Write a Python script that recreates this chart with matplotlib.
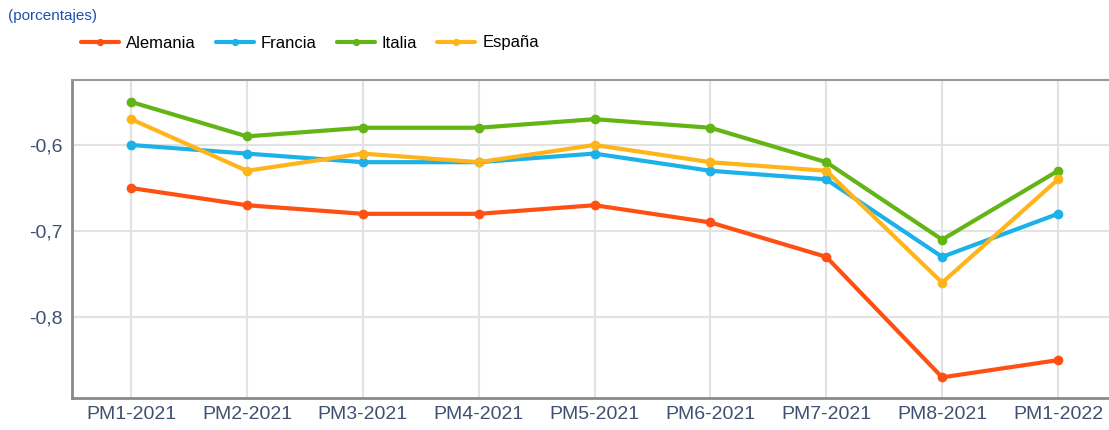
import numpy as np
import matplotlib.pyplot as plt
from matplotlib.ticker import FuncFormatter

# periods on the x axis
periodos = ["PM1-2021", "PM2-2021", "PM3-2021", "PM4-2021", "PM5-2021",
            "PM6-2021", "PM7-2021", "PM8-2021", "PM1-2022"]

alemania = [-0.65, -0.67, -0.68, -0.68, -0.67, -0.69, -0.73, -0.87, -0.85]
francia = [-0.60, -0.61, -0.62, -0.62, -0.61, -0.63, -0.64, -0.73, -0.68]
italia = [-0.55, -0.59, -0.58, -0.58, -0.57, -0.58, -0.62, -0.71, -0.63]
espana = [-0.57, -0.63, -0.61, -0.62, -0.60, -0.62, -0.63, -0.76, -0.64]

series = [("Alemania", alemania, "#ff5014"),
          ("Francia", francia, "#1cb1e8"),
          ("Italia", italia, "#63b516"),
          ("España", espana, "#ffb419")]

plt.rcParams['font.family'] = ['Liberation Sans', 'DejaVu Sans']

fig = plt.figure(figsize=(11.09, 4.30), dpi=100)
ax = fig.add_axes([72/1109, 1 - 398/430, 1 - 72/1109, (398 - 80)/430])

x = np.arange(len(periodos))
for nombre, vals, col in series:
    ax.plot(x, vals, color=col, lw=3, marker="o", ms=6, label=nombre,
            solid_capstyle="round")

ax.set_xlim(-0.51, 8.44)
ax.set_ylim(-0.894, -0.5245)
ax.set_yticks([-0.6, -0.7, -0.8])
ax.yaxis.set_major_formatter(FuncFormatter(lambda v, p: ("%.1f" % v).replace(".", ",")))
ax.set_xticks(x)
ax.set_xticklabels(periodos)
ax.tick_params(length=0, labelsize=14, labelcolor="#3f5070", pad=6)
ax.tick_params(axis="y", pad=7)

ax.grid(True, color="#e2e2e2", lw=1.5)
ax.set_axisbelow(True)
ax.spines["right"].set_visible(False)
for s in ["left", "bottom"]:
    ax.spines[s].set_color("#8a8a8a")
    ax.spines[s].set_linewidth(2)
ax.spines["top"].set_color("#9a9a9a")
ax.spines["top"].set_linewidth(1.5)

fig.text(8/1109, 1 - 16/430, "(porcentajes)", color="#1f4fb0", fontsize=11,
         va="center", ha="left")

fig.legend(loc="center left", bbox_to_anchor=(66/1109, 1 - 43/430), ncol=4,
           frameon=False, fontsize=12, handlelength=2.3, columnspacing=1.2,
           handletextpad=0.4, markerscale=0.7)

fig.savefig("out.png", dpi=100)
